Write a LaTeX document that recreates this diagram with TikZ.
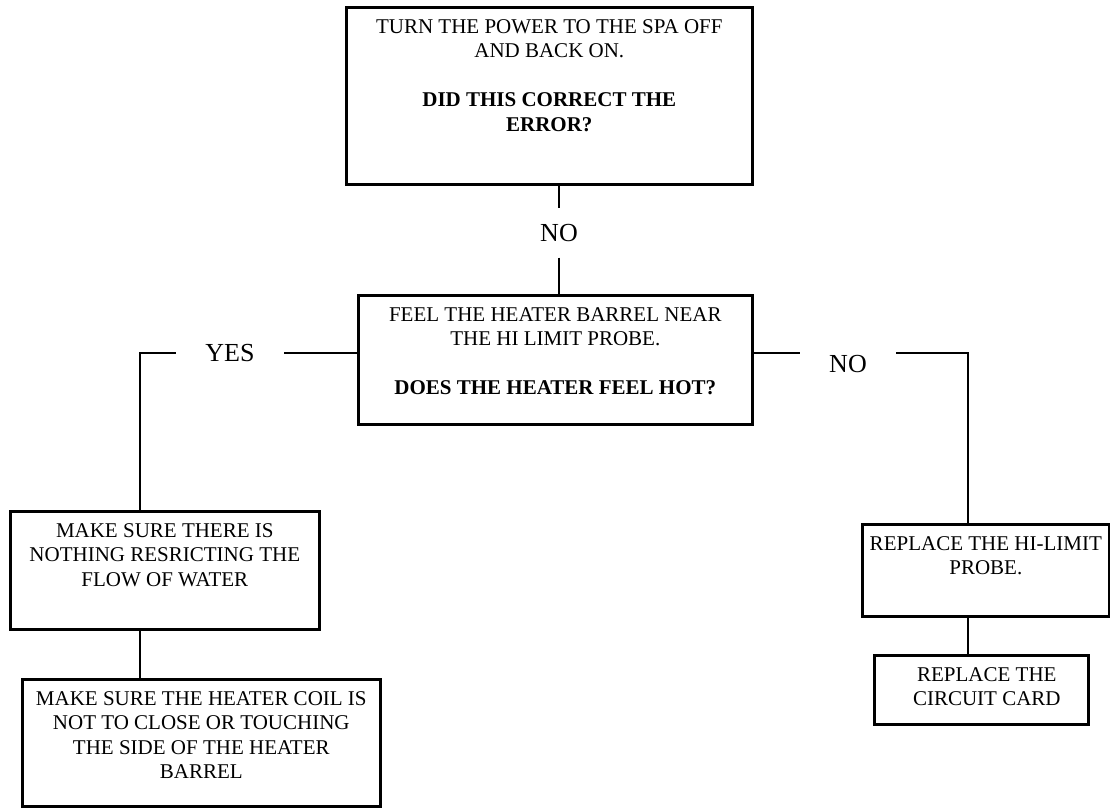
\documentclass[tikz,border=0pt]{standalone}
\usepackage{fontspec}
\setmainfont{Liberation Serif}
\newcommand{\boxtext}[3]{\parbox[t][#2][t]{#1}{\centering\rule{0pt}{26pt}#3}}
\begin{document}
\begin{tikzpicture}[x=1pt,y=-1pt,
  flowbox/.style={draw=black,line width=2.6pt,inner sep=0pt,anchor=north west,
    font=\fontsize{21}{24.5}\selectfont},
  conn/.style={draw=black,line width=2pt},
  lbl/.style={inner sep=0pt,font=\fontsize{26}{30}\selectfont}]
\useasboundingbox (0,0) rectangle (1110,807);
\node[flowbox] (top) at (345,6) {\boxtext{406pt}{177pt}{TURN THE POWER TO THE SPA OFF\\ AND BACK ON.\\[24.5pt] \textbf{DID THIS CORRECT THE}\\ \textbf{ERROR?}}};
\node[flowbox] (mid) at (357,294) {\boxtext{394pt}{129pt}{FEEL THE HEATER BARREL NEAR\\ THE HI LIMIT PROBE.\\[24.5pt] \textbf{DOES THE HEATER FEEL HOT?}}};
\node[flowbox] (b1) at (9,510) {\boxtext{309pt}{118pt}{MAKE SURE THERE IS\\ NOTHING RESRICTING THE\\ FLOW OF WATER}};
\node[flowbox] (b2) at (21,678) {\boxtext{358pt}{127pt}{MAKE SURE THE HEATER COIL IS\\ NOT TO CLOSE OR TOUCHING\\ THE SIDE OF THE HEATER\\ BARREL}};
\node[flowbox] (b3) at (861,523) {\boxtext{247pt}{92pt}{REPLACE THE HI-LIMIT\\ PROBE.}};
\node[flowbox] (b4) at (873,654) {\boxtext{214pt}{69pt}{\hspace*{11pt}REPLACE THE\\ \hspace*{11pt}CIRCUIT CARD}};
% labels
\node[lbl,minimum height=49pt] (no1) at (559,233) {NO};
\node[lbl,minimum width=108pt] (yes) at (230,353) {YES};
\node[lbl,minimum width=96pt] (no2) at (848,364) {NO};
\coordinate (cl) at (140,353);
\coordinate (cr) at (968,353);
% connectors
\draw[conn] (top.south -| no1.north) -- (no1.north);
\draw[conn] (no1.south) -- (mid.north -| no1.south);
\draw[conn] (mid.west |- cl) -- (yes.east |- cl);
\draw[conn] (yes.west |- cl) -- (cl) -- (cl |- b1.north);
\draw[conn] (cl |- b1.south) -- (cl |- b2.north);
\draw[conn] (mid.east |- cr) -- (no2.west |- cr);
\draw[conn] (no2.east |- cr) -- (cr) -- (cr |- b3.north);
\draw[conn] (cr |- b3.south) -- (cr |- b4.north);
\end{tikzpicture}
\end{document}
